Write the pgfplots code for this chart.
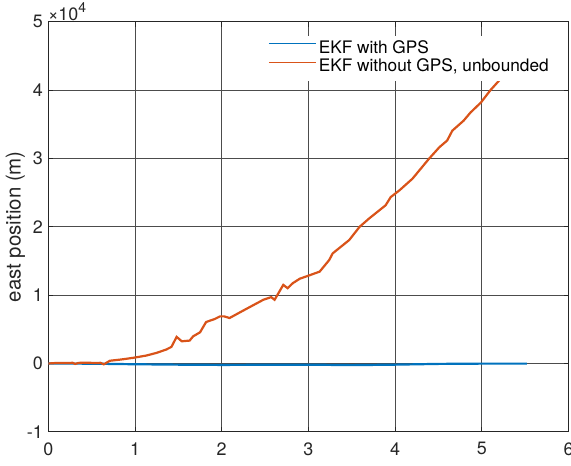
\documentclass[border=0pt]{standalone}
\usepackage{fontspec}
\setmainfont{TeX Gyre Heros}
\usepackage{pgfplots}
\pgfplotsset{compat=1.18}
\definecolor{mblue}{rgb}{0,0.447,0.741}
\definecolor{morange}{rgb}{0.85,0.325,0.098}
\definecolor{axgray}{rgb}{0.15,0.15,0.15}

\begin{document}
\begin{tikzpicture}
\begin{axis}[
  name=ax,
  scale only axis, width=520bp, height=410bp,
  xmin=0, xmax=6, ymin=-10000, ymax=50000,
  xtick={0,1,...,6}, ytick={-10000,0,10000,20000,30000,40000,50000},
  grid=major,
  major grid style={line width=0.8bp, color=black!70},
  axis line style={line width=0.9bp, color=axgray},
  tick align=inside, major tick length=5bp,
  tick style={line width=0.8bp, color=axgray},
  scaled y ticks=true,
  ytick scale label code/.code={×10\raisebox{0.45em}{\fontsize{14}{14}\selectfont #1}},
  every y tick scale label/.style={at={(rel axis cs:0,1)}, anchor=base west,
    inner sep=0pt, xshift=1.5bp, yshift=1.5bp, font=\fontsize{18}{20}\selectfont, text=axgray},
  /pgf/number format/assume math mode=true,
  ticklabel style={font=\fontsize{18}{20}\selectfont, text=axgray},
  xticklabel style={yshift=-7bp},
  yticklabel style={xshift=-2bp},
  ylabel={east position (m)},
  every axis y label/.style={at={(rel axis cs:0,0.5)}, xshift=-33bp, rotate=90,
    anchor=center, font=\fontsize{20.5}{24}\selectfont, text=axgray},
  legend style={at={(rel axis cs:0.41,0.966)}, anchor=north west, draw=none, fill=white,
    font=\fontsize{17.3}{18}\selectfont, inner xsep=6.5bp, inner ysep=4.5bp, row sep=1bp,
    nodes={inner xsep=2.5bp, inner ysep=0.5bp, text height=12.5bp, text depth=4bp}},
  legend cell align=left,
  legend image code/.code={\draw[#1, line width=1bp] (0bp,5.5bp) -- (47bp,5.5bp);},
]
% EKF estimate with GPS updates (east, metres)
\addplot[mblue, line width=2.2bp] coordinates {
  (0.00,0) (0.50,-30) (1.00,-110) (1.50,-170) (2.00,-210) (2.50,-190)
  (3.00,-170) (3.50,-240) (4.00,-170) (4.50,-60) (5.00,-20) (5.52,-20)
};
\addlegendentry{EKF with GPS}
% EKF dead reckoning without GPS (east, metres)
\addplot[morange, line width=2.2bp] coordinates {
  (0.00,0) (0.10,80) (0.20,60) (0.28,100) (0.31,-60) (0.35,90) (0.45,120)
  (0.55,60) (0.60,100) (0.64,-120) (0.71,400) (0.85,600) (0.98,830)
  (1.13,1160) (1.25,1560) (1.36,2040) (1.42,2430) (1.48,3890) (1.54,3250)
  (1.63,3350) (1.67,3970) (1.75,4560) (1.82,6070) (1.92,6510) (1.98,6890)
  (2.03,6890) (2.09,6650) (2.28,7960) (2.48,9320) (2.57,9710) (2.61,9320)
  (2.71,11500) (2.76,11020) (2.82,11750) (2.90,12400) (2.97,12710)
  (3.13,13440) (3.24,15140) (3.28,16110) (3.47,18050) (3.59,19990)
  (3.70,21210) (3.89,23140) (3.95,24350) (4.05,25330) (4.20,27030)
  (4.39,29940) (4.51,31630) (4.60,32610) (4.66,34060) (4.79,35520)
  (4.87,36720) (4.99,38180) (5.10,39990) (5.23,41820) (5.35,43600)
};
\addlegendentry{EKF without GPS, unbounded}
\end{axis}
\pgfresetboundingbox
\path[use as bounding box] ([shift={(-48.3bp,-33.3bp)}]ax.south west)
  rectangle ([shift={(2.5bp,21.7bp)}]ax.north east);
\end{tikzpicture}
\end{document}
